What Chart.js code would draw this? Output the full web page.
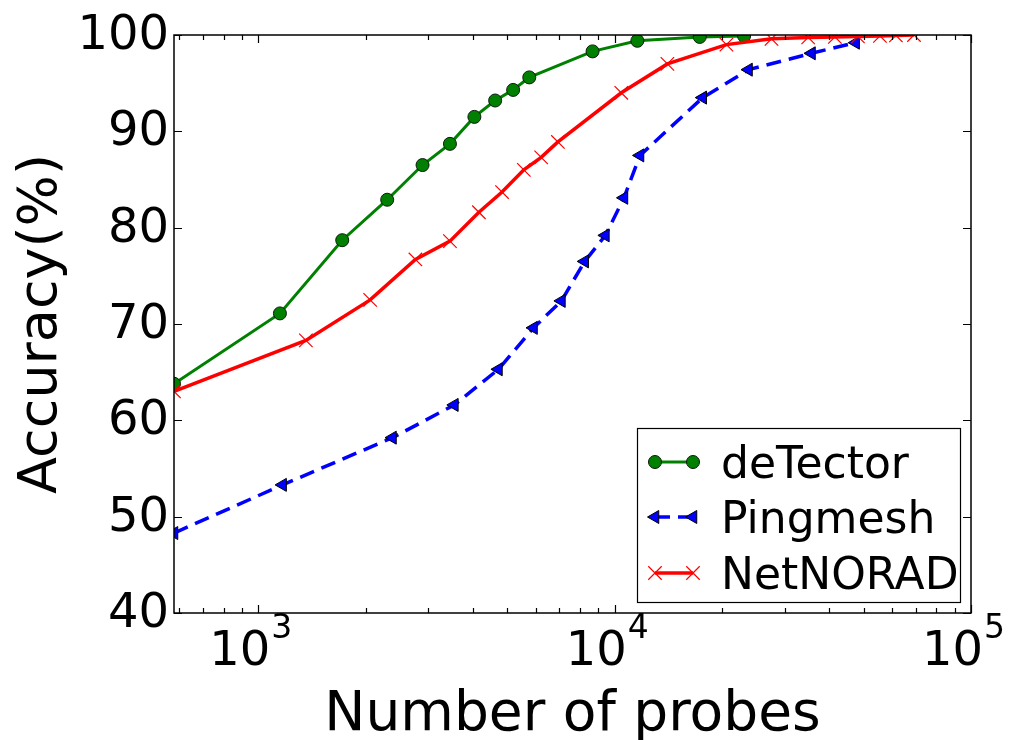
<!DOCTYPE html>
<html>
<head>
<meta charset="utf-8">
<script src="https://cdn.jsdelivr.net/npm/chart.js@4/dist/chart.umd.min.js"></script>
<style>
  body { margin: 0; background: #fff; }
  canvas { display: block; }
</style>
</head>
<body>
<canvas id="chart" width="1012" height="740"></canvas>
<script>
// Data
const probesDetector = [580, 1150, 1720, 2300, 2890, 3450, 4040, 4620, 5190, 5760, 8670, 11580, 17330, 23080];
const accDetector = [63.8, 71.1, 78.7, 82.9, 86.5, 88.7, 91.5, 93.2, 94.3, 95.6, 98.3, 99.4, 99.8, 99.9];

const probesPingmesh = [580, 1170, 2380, 3550, 4720, 5920, 7090, 8240, 9420, 10620, 11780, 17670, 23750, 35680, 47450];
const accPingmesh = [48.3, 53.3, 58.2, 61.6, 65.3, 69.6, 72.4, 76.5, 79.2, 83.1, 87.5, 93.5, 96.4, 98.1, 99.2];

const probesNetnorad = [580, 1360, 2060, 2760, 3450, 4160, 4830, 5560, 6220, 6930, 10440, 14060, 20590, 27550, 34920, 41500, 48150, 55520, 61560, 69180];
const accNetnorad = [63.0, 68.3, 72.5, 76.7, 78.6, 81.6, 83.7, 86.0, 87.3, 88.9, 94.0, 97.0, 99.0, 99.6, 99.75, 99.8, 99.85, 99.9, 99.95, 100];

// Axis ticks
const xMajorTicks = [1000, 10000, 100000];
const xMajorExponents = ['3', '4', '5'];
const xMinorTicks = [600, 700, 800, 900, 2000, 3000, 4000, 5000, 6000, 7000, 8000, 9000,
  20000, 30000, 40000, 50000, 60000, 70000, 80000, 90000];
const yTicks = [40, 50, 60, 70, 80, 90, 100];

const FONT = '"DejaVu Sans", sans-serif';

function toPoints(xs, ys) {
  return xs.map((x, i) => ({ x: x, y: ys[i] }));
}

// Frame, inward ticks, labels and legend drawn matplotlib style
const axesPlugin = {
  id: 'axesPlugin',
  afterDraw(chart) {
    const ctx = chart.ctx;
    const area = chart.chartArea;
    const xs = chart.scales.x;
    const ys = chart.scales.y;
    ctx.save();
    ctx.strokeStyle = '#000';
    ctx.lineWidth = 1.5;
    ctx.strokeRect(area.left, area.top, area.right - area.left, area.bottom - area.top);

    ctx.lineWidth = 1.2;
    ctx.beginPath();
    xMajorTicks.forEach(v => {
      const px = Math.round(xs.getPixelForValue(v)) + 0.5;
      ctx.moveTo(px, area.bottom); ctx.lineTo(px, area.bottom - 8);
      ctx.moveTo(px, area.top); ctx.lineTo(px, area.top + 8);
    });
    xMinorTicks.forEach(v => {
      const px = Math.round(xs.getPixelForValue(v)) + 0.5;
      ctx.moveTo(px, area.bottom); ctx.lineTo(px, area.bottom - 5);
      ctx.moveTo(px, area.top); ctx.lineTo(px, area.top + 5);
    });
    yTicks.forEach(v => {
      const py = Math.round(ys.getPixelForValue(v)) + 0.5;
      ctx.moveTo(area.left, py); ctx.lineTo(area.left + 8, py);
      ctx.moveTo(area.right, py); ctx.lineTo(area.right - 8, py);
    });
    ctx.stroke();

    // tick labels
    ctx.fillStyle = '#000';
    ctx.font = '48px ' + FONT;
    ctx.textAlign = 'right';
    ctx.textBaseline = 'alphabetic';
    yTicks.forEach(v => {
      const py = ys.getPixelForValue(v);
      ctx.fillText(String(v), area.left - 5, py + 14);
    });
    ctx.textAlign = 'left';
    xMajorTicks.forEach((v, i) => {
      const px = xs.getPixelForValue(v);
      ctx.font = '48px ' + FONT;
      ctx.fillText('10', px - 49, 665);
      ctx.font = '33px ' + FONT;
      ctx.fillText(xMajorExponents[i], px + 13, 638);
    });

    // axis titles
    ctx.font = '55px ' + FONT;
    ctx.textAlign = 'center';
    ctx.fillText('Number of probes', (area.left + area.right) / 2, 730);
    ctx.save();
    ctx.translate(56, (area.top + area.bottom) / 2);
    ctx.rotate(-Math.PI / 2);
    ctx.font = '54px ' + FONT;
    ctx.fillText('Accuracy(%)', 0, 0);
    ctx.restore();

    // legend
    const box = { left: 637, top: 428, right: 960, bottom: 602 };
    ctx.fillStyle = '#fff';
    ctx.fillRect(box.left, box.top, box.right - box.left, box.bottom - box.top);
    ctx.strokeStyle = '#000';
    ctx.lineWidth = 1.2;
    ctx.strokeRect(box.left + 0.5, box.top + 0.5, box.right - box.left, box.bottom - box.top);
    const rows = [462, 517, 573];
    chart.data.datasets.forEach((ds, i) => {
      const y = rows[i];
      ctx.save();
      ctx.strokeStyle = ds.borderColor;
      ctx.lineWidth = ds.borderWidth;
      ctx.setLineDash(ds.borderDash || []);
      ctx.beginPath();
      ctx.moveTo(655, y); ctx.lineTo(693, y);
      ctx.stroke();
      ctx.setLineDash([]);
      [655, 693].forEach(mx => {
        ctx.fillStyle = ds.pointBackgroundColor;
        ctx.strokeStyle = ds.pointBorderColor;
        ctx.lineWidth = ds.pointBorderWidth;
        Chart.helpers.drawPoint(ctx, {
          pointStyle: ds.pointStyle,
          radius: ds.pointRadius,
          rotation: ds.pointRotation || 0,
          borderWidth: ds.pointBorderWidth
        }, mx, y);
      });
      ctx.restore();
      ctx.fillStyle = '#000';
      ctx.font = '44px ' + FONT;
      ctx.textAlign = 'left';
      ctx.fillText(ds.label, 721, y + 16);
    });
    ctx.restore();
  }
};

const ctx = document.getElementById('chart').getContext('2d');
new Chart(ctx, {
  type: 'line',
  data: {
    datasets: [
      {
        label: 'deTector',
        data: toPoints(probesDetector, accDetector),
        borderColor: '#008000',
        borderWidth: 3,
        pointStyle: 'circle',
        pointRadius: 6.5,
        pointBackgroundColor: '#008000',
        pointBorderColor: '#0a1a0a',
        pointBorderWidth: 1,
        order: 3,
        clip: 0
      },
      {
        label: 'Pingmesh',
        data: toPoints(probesPingmesh, accPingmesh),
        borderColor: '#0000ff',
        borderWidth: 3.5,
        borderDash: [15, 8],
        pointStyle: 'triangle',
        pointRotation: -90,
        pointRadius: 7.5,
        pointBackgroundColor: '#0000ff',
        pointBorderColor: '#000',
        pointBorderWidth: 1,
        order: 2,
        clip: 0
      },
      {
        label: 'NetNORAD',
        data: toPoints(probesNetnorad, accNetnorad),
        borderColor: '#ff0000',
        borderWidth: 3.5,
        pointStyle: 'crossRot',
        pointRadius: 9.5,
        pointBackgroundColor: '#ff0000',
        pointBorderColor: '#ff0000',
        pointBorderWidth: 1.2,
        order: 1,
        clip: 0
      }
    ]
  },
  options: {
    responsive: false,
    animation: false,
    devicePixelRatio: 1,
    layout: { padding: { left: 174, top: 35, right: 41, bottom: 127 } },
    elements: { line: { tension: 0 } },
    scales: {
      x: { type: 'logarithmic', min: 580, max: 100000, display: false },
      y: { type: 'linear', min: 40, max: 100, display: false }
    },
    plugins: {
      legend: { display: false },
      tooltip: { enabled: false }
    }
  },
  plugins: [axesPlugin]
});
</script>
</body>
</html>
